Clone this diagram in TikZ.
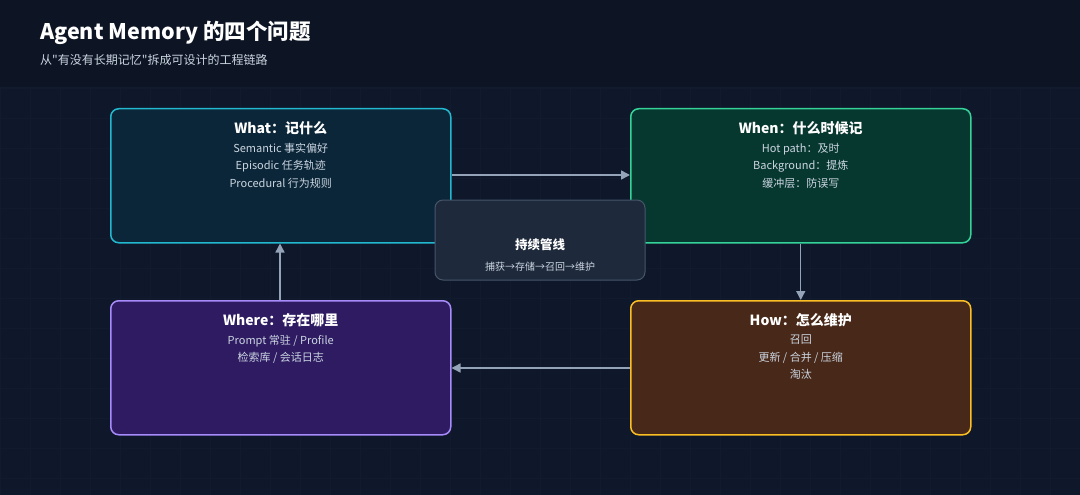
\documentclass[tikz,border=0pt]{standalone}
\usepackage{fontspec}
\setmainfont{Noto Sans CJK SC}
\newfontfamily\plaincjk{Noto Sans CJK SC}
\usetikzlibrary{positioning, arrows.meta}
\definecolor{bgtop}{HTML}{0D1424}
\definecolor{bgmain}{HTML}{0F172A}
\definecolor{gridc}{HTML}{121B2E}
\definecolor{arrowc}{HTML}{94A3B8}
\definecolor{textc}{HTML}{CBD5E1}
\definecolor{whatline}{HTML}{22B8CF}\definecolor{whatfill}{HTML}{0B2638}
\definecolor{whenline}{HTML}{34D399}\definecolor{whenfill}{HTML}{07382F}
\definecolor{whereline}{HTML}{A78BFA}\definecolor{wherefill}{HTML}{2E1B62}
\definecolor{howline}{HTML}{FBBF24}\definecolor{howfill}{HTML}{482818}
\definecolor{pipeline}{HTML}{475569}\definecolor{pipefill}{HTML}{1E293B}
\tikzset{
  box/.style = {draw, line width=1.5pt, rounded corners=8pt, minimum width=340pt,
    minimum height=134pt, anchor=north west},
  boxhead/.style = {anchor=north, text=white, font=\fontsize{14}{17}\selectfont\bfseries},
  boxbody/.style = {anchor=north, align=center, text=textc, font=\fontsize{11}{17.5}\selectfont},
  flow/.style = {draw=arrowc, line width=1.4pt, -{Triangle[length=9pt,width=9pt]}}
}
\begin{document}
\begin{tikzpicture}[x=1pt, y=-1pt, every node/.style = {inner sep=0pt}]
\useasboundingbox (0,0) rectangle (1080,495);
\fill[bgmain] (0,0) rectangle (1080,495);
% grid
\foreach \gx in {0,30,...,1080} \draw[gridc, line width=0.5pt] (\gx,88) -- (\gx,495);
\foreach \gy in {88,118,...,495} \draw[gridc, line width=0.5pt] (0,\gy) -- (1080,\gy);
\fill[bgtop] (0,0) rectangle (1080,88);
\draw[gridc, line width=1pt] (0,88) -- (1080,88);
% header
\node[anchor=west, text=white, font=\fontsize{21.5}{26}\selectfont\bfseries] (title) at (40,33) {Agent Memory 的四个问题};
\node[anchor=west, text=textc, font=\plaincjk\fontsize{12}{14}\selectfont] (subtitle) at (40,60) {从"有没有长期记忆"拆成可设计的工程链路};
% boxes
\node[box, draw=whatline, fill=whatfill] (what) at (110,108) {};
\node[box, draw=whenline, fill=whenfill] (when) at (630,108) {};
\node[box, draw=whereline, fill=wherefill] (where) at (110,300) {};
\node[box, draw=howline, fill=howfill] (how) at (630,300) {};
\node[boxhead] (whathead) at ([yshift=-13pt]what.north) {What：记什么};
\node[boxbody, below=8pt of whathead] (whatbody) {Semantic 事实偏好\\Episodic 任务轨迹\\Procedural 行为规则};
\node[boxhead] (whenhead) at ([yshift=-13pt]when.north) {When：什么时候记};
\node[boxbody, below=8pt of whenhead] (whenbody) {Hot path：及时\\Background：提炼\\缓冲层：防误写};
\node[boxhead] (wherehead) at ([yshift=-13pt]where.north) {Where：存在哪里};
\node[boxbody, below=8pt of wherehead] (wherebody) {Prompt 常驻 / Profile\\检索库 / 会话日志};
\node[boxhead] (howhead) at ([yshift=-13pt]how.north) {How：怎么维护};
\node[boxbody, below=8pt of howhead] (howbody) {召回\\更新 / 合并 / 压缩\\淘汰};
% arrows
\draw[flow] (what.east |- 0,175) -- (when.west |- 0,175);
\draw[flow] (when.south) -- (how.north);
\draw[flow] (how.west |- 0,368) -- (where.east |- 0,368);
\draw[flow] ([xshift=170pt]where.north west) -- ([xshift=170pt]what.south west);
% center
\node[draw=pipeline, fill=pipefill, line width=1pt, rounded corners=8pt,
  minimum width=210pt, minimum height=80pt] (pipe) at (540,240) {};
\node[anchor=north, text=white, font=\fontsize{12.5}{15}\selectfont\bfseries] (pipehead) at ([yshift=-39pt]pipe.north) {持续管线};
\node[anchor=north, text=textc, font=\fontsize{10}{12}\selectfont] (pipebody) at ([yshift=-62pt]pipe.north) {捕获→存储→召回→维护};
\end{tikzpicture}
\end{document}
